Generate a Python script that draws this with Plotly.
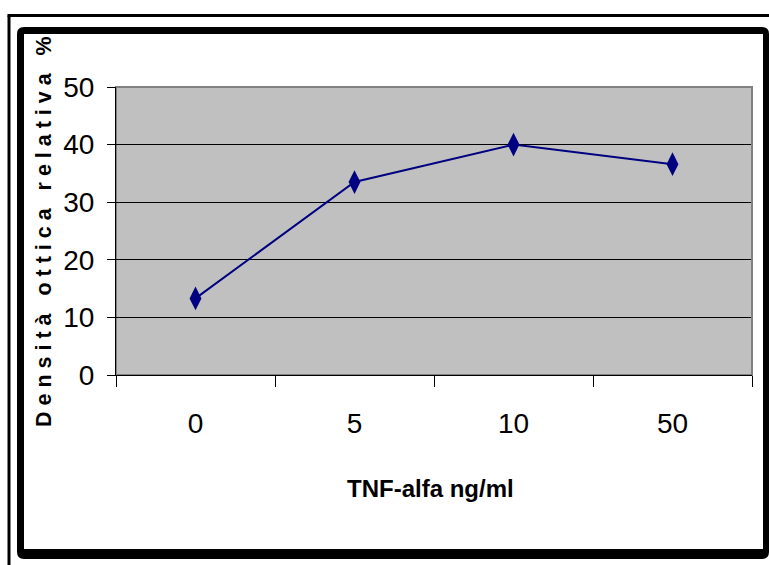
import plotly.graph_objects as go

# ---- data ----
categories = ["0", "5", "10", "50"]
values = [13.3, 33.5, 40.0, 36.6]
y_ticks = [0, 10, 20, 30, 40, 50]
x_title = "TNF-alfa ng/ml"
y_words = ["Densità", "ottica", "relativa", "%"]

NB = "\u00a0"
y_title = (NB * 3).join(" ".join(w) for w in y_words)

W, H = 769, 565
L, R, T, B = 116, 752, 87, 375  # plot area in pixels

def px(x):
    return (x - L) / (R - L)

def py(y):
    return (B - y) / (B - T)

FONT = "Liberation Sans Narrow, Arial Narrow, Liberation Sans, Arial, sans-serif"

fig = go.Figure()
fig.add_trace(go.Scatter(
    x=categories, y=values, mode="lines+markers",
    line=dict(color="#000080", width=2),
    marker=dict(symbol="diamond-tall", size=17, color="#000080"),
    showlegend=False,
))

def rrect(x0, y0, x1, y1, r):
    X0, X1 = px(x0), px(x1)
    Y0, Y1 = py(y0), py(y1)
    rx = r / (R - L)
    ry = r / (B - T)
    return (f"M {X0+rx} {Y0} L {X1-rx} {Y0} Q {X1} {Y0} {X1} {Y0-ry} "
            f"L {X1} {Y1+ry} Q {X1} {Y1} {X1-rx} {Y1} L {X0+rx} {Y1} "
            f"Q {X0} {Y1} {X0} {Y1+ry} L {X0} {Y0-ry} Q {X0} {Y0} {X0+rx} {Y0} Z")

shapes = [
    # outer thin frame (left + top)
    dict(type="line", xref="paper", yref="paper", x0=px(9), x1=px(9), y0=py(15.5), y1=py(570),
         line=dict(color="black", width=3), layer="below"),
    dict(type="line", xref="paper", yref="paper", x0=px(7.5), x1=px(775), y0=py(15.5), y1=py(15.5),
         line=dict(color="black", width=3), layer="below"),
    # inner thick rounded frame
    dict(type="path", xref="paper", yref="paper", path=rrect(17, 27, 769, 559, 7),
         fillcolor="black", line=dict(width=0), layer="below"),
    dict(type="rect", xref="paper", yref="paper", x0=px(24), x1=px(763), y0=py(34), y1=py(549),
         fillcolor="white", line=dict(width=0), layer="below"),
    # plot area
    dict(type="rect", xref="paper", yref="paper", x0=0, x1=1, y0=0, y1=1,
         fillcolor="#C0C0C0", line=dict(color="#808080", width=2), layer="below"),
    # gray top and right borders over the grid
    dict(type="line", xref="paper", yref="paper", x0=0, x1=1, y0=1, y1=1,
         line=dict(color="#808080", width=2), layer="above"),
    dict(type="line", xref="paper", yref="paper", x0=1, x1=1, y0=0, y1=1,
         line=dict(color="#808080", width=2), layer="above"),
]

annotations = [
    dict(text=y_title, xref="paper", yref="paper", x=px(44), y=py(232),
         showarrow=False, textangle=-90, xanchor="center", yanchor="middle",
         font=dict(family=FONT, size=21.5, color="black", weight="bold")),
    dict(text=x_title, xref="paper", yref="paper", x=px(430), y=py(488),
         showarrow=False, xanchor="center", yanchor="middle",
         font=dict(family=FONT, size=24, color="black", weight="bold")),
]

fig.update_layout(
    width=W, height=H,
    margin=dict(l=L, r=W - R, t=T, b=H - B),
    paper_bgcolor="white",
    plot_bgcolor="rgba(0,0,0,0)",
    shapes=shapes,
    annotations=annotations,
    xaxis=dict(
        type="category", categoryorder="array", categoryarray=categories,
        range=[-0.5, 3.5], tickson="boundaries",
        ticks="outside", ticklen=11, tickcolor="black", tickwidth=1,
        showline=True, linecolor="black", linewidth=1,
        showgrid=False, zeroline=False,
        tickfont=dict(family=FONT, size=28, color="black"),
        ticklabelstandoff=23,
    ),
    yaxis=dict(
        range=[0, 50], tickvals=y_ticks,
        ticks="outside", ticklen=8, tickcolor="black", tickwidth=1,
        showline=True, linecolor="black", linewidth=1,
        showgrid=True, gridcolor="black", gridwidth=1,
        zeroline=False,
        tickfont=dict(family=FONT, size=28, color="black"),
        ticklabelstandoff=7,
    ),
)

fig.write_html("out.html")
